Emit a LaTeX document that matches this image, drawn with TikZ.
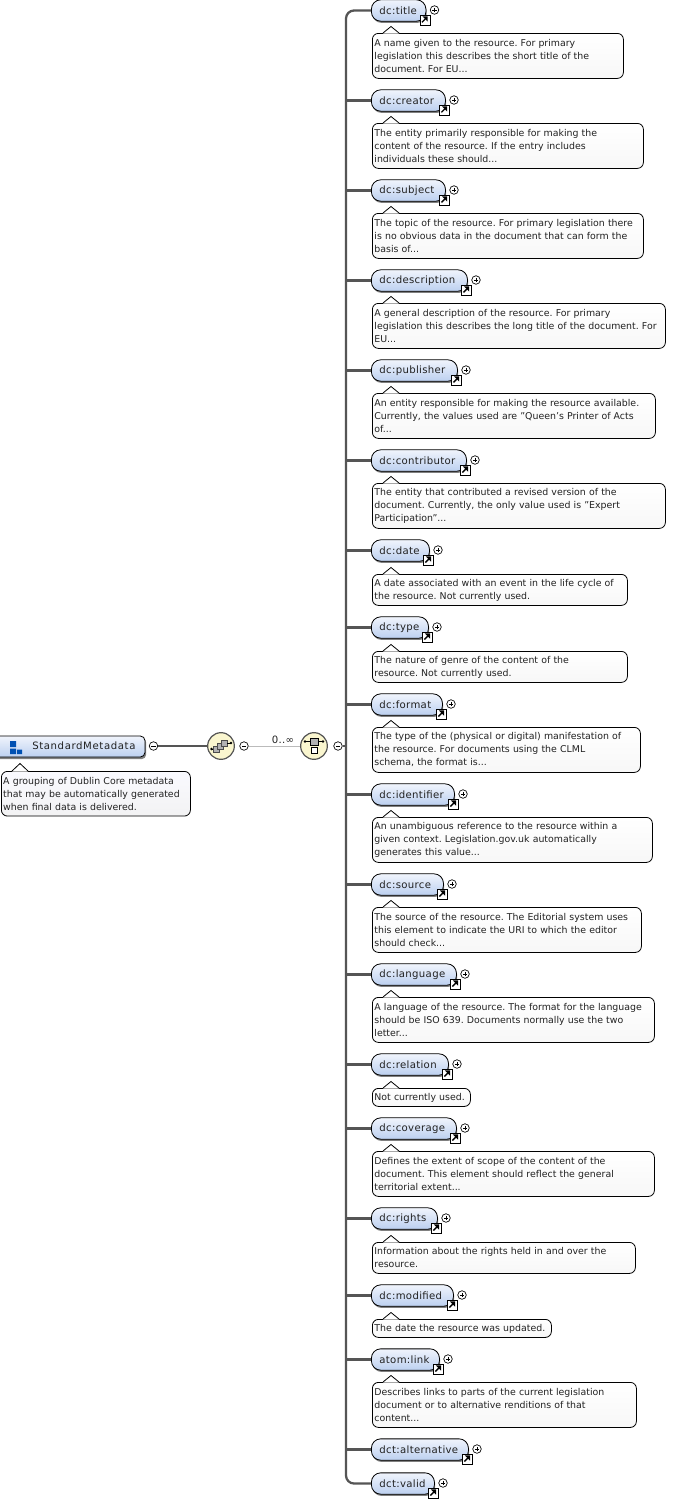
\documentclass[tikz,border=0pt]{standalone}
\usepackage{fontspec}
\setmainfont{DejaVu Sans}
\usetikzlibrary{shadows,calc}
\definecolor{linegray}{HTML}{555555}
\definecolor{thingray}{HTML}{BBBBBB}
\definecolor{ink}{HTML}{222222}
\definecolor{pilltop}{HTML}{F0F4FC}
\definecolor{pillbot}{HTML}{BCD0F0}
\definecolor{compfill}{HTML}{FAF6CF}
\tikzset{
  x=0.75pt,y=-0.75pt,
  txt/.style={font=\fontsize{7.05pt}{9.75pt}\selectfont\frenchspacing,text=ink},
  pilltxt/.style={font=\fontsize{7.6pt}{9.75pt}\selectfont\addfontfeature{LetterSpace=3.2},text=ink},
  conn/.style={draw=linegray,line width=1.7pt},
  thin conn/.style={draw=thingray,line width=0.75pt},
  pill/.style={draw=black,line width=0.6pt,rounded corners=7pt,top color=pilltop,bottom color=pillbot,
    general shadow={shadow xshift=0.6pt,shadow yshift=-1.3pt,fill=gray},
    anchor=west,minimum height=16pt,inner sep=0pt,pilltxt},
  note/.style={draw=black,line width=0.6pt,rounded corners=4.5pt,top color=white,bottom color=black!3,anchor=north west,inner sep=0pt,align=left,txt},
  bluenote/.style={note,top color=blue!2,bottom color=blue!8!black!5},
  exp/.style={circle,draw=black,line width=0.5pt,fill=white,minimum size=6.4pt,inner sep=0pt},
  badge/.style={draw=black,line width=0.6pt,fill=white,minimum size=7.5pt,inner sep=0pt,anchor=north west},
  comp/.style={circle,draw=linegray,line width=0.9pt,fill=compfill,minimum size=20pt,inner sep=0pt},
}
\newcommand{\plusmark}[1]{\draw[line width=0.5pt,black] ($(#1.center)+(-2.2,0)$)--($(#1.center)+(2.2,0)$) ($(#1.center)+(0,-2.2)$)--($(#1.center)+(0,2.2)$);}
\newcommand{\minusmark}[1]{\draw[line width=0.5pt,black] ($(#1.center)+(-2.2,0)$)--($(#1.center)+(2.2,0)$);}
% id, label, centre y, plus x, note right, note top offset, note bottom offset, text
\newcommand{\elem}[8]{%
  \pgfmathsetlengthmacro{\pw}{(#4-9-371)*0.75pt}%
  \node[pill,minimum width=\pw] (#1) at (371,#3+0.5) {\makebox[\pw][l]{\hspace{6pt}#2}};
  \node[exp] (#1x) at (#4,#3) {};
  \plusmark{#1x}
  \node[badge] (#1b) at (#4-15,#3+4.5) {};
  \fill[black] (#4-7,#3+6.3)--(#4-12.2,#3+6.3)--(#4-7,#3+11.5)--cycle;
  \draw[black,line width=1pt] (#4-12.6,#3+12.4)--(#4-9.2,#3+9);
  \ifx&#8&\else
  \pgfmathsetlengthmacro{\nw}{(#5-372)*0.75pt}%
  \pgfmathsetlengthmacro{\nh}{(#7-#6)*0.75pt}%
  \pgfmathsetlengthmacro{\tw}{(#5-372)*0.75pt-3pt}%
  \node[note,minimum width=\nw,minimum height=\nh,text width=\tw] (#1n) at (372,#3+#6) {#8};
  \fill[white] (383,#3+#6+0.6)--(391,#3+#6-6.5)--(399,#3+#6+0.6)--cycle;
  \draw[line width=0.6pt,black] (383,#3+#6)--(391,#3+#6-6.5)--(399,#3+#6);
  \fi
}
\begin{document}
\begin{tikzpicture}
\useasboundingbox (0,0) rectangle (673,1499);
\fill[white] (0,0) rectangle (673,1499);
% root
\fill[gray,rounded corners=3pt] (-9,738) -- (146,738) -- (146,759) -- (-9,759) -- cycle;
\draw[black,line width=0.6pt,top color=pilltop,bottom color=pillbot,rounded corners=3.5pt] (-9,736) -- (145,736) -- (145,757) -- (-9,757) -- cycle;
\node[pilltxt,anchor=west,inner sep=0pt] (root) at (32,746) {\addfontfeature{LetterSpace=6}StandardMetadata};
\fill[blue!55!cyan!70!black] (10,741) rectangle (16,747) (10,748.5) rectangle (16,754) (17,749.5) rectangle (22,754);
\node[exp] (rootx) at (153.5,746) {}; \minusmark{rootx}
\node[comp] (seq) at (221,746) {};
\node[exp] (seqx) at (244,746) {}; \minusmark{seqx}
\node[comp] (choice) at (314,746) {};
\node[exp] (choicex) at (338,746) {}; \minusmark{choicex}
\coordinate (tk) at (346,746);
\draw[conn] (rootx) -- (seq);
\draw[thin conn] (seqx) -- (choice);
\draw[linegray,line width=0.9pt] (choicex) -- (tk);
\node[pilltxt,inner sep=0pt] (occ) at (283,739.5) {0..∞};
% compositor icons
\foreach \dx/\dy in {-5/3,-1/0,3/-3}{\draw[linegray!90!black,line width=0.5pt,fill=gray!60] (221+\dx-3,746+\dy-3) rectangle (221+\dx+3,746+\dy+3);}
\draw[black,line width=0.7pt] (213,749)--(211.5,749) (227,743)--(231,743);
\fill[black] (211.5,749) circle (1.3) (231,743) circle (1.3);
\draw[black,line width=0.7pt] (305,741.5)--(323,741.5);
\fill[black] (305,741.5) circle (1.3) (323,741.5) circle (1.3);
\draw[black,line width=0.5pt,fill=gray!60] (310,738) rectangle (318,745);
\draw[black,line width=0.6pt,fill=white] (311,747.5) rectangle (317.5,753.5);
% root note
\node[bluenote,minimum width=141.75pt,minimum height=33.5pt,text width=139pt] (rootn) at (1,771) {A grouping of Dublin Core metadata\\that may be automatically generated\\when final data is delivered.};
\fill[white] (12,771.6)--(20,763.5)--(28,771.6)--cycle;
\draw[line width=0.6pt,black] (12,771)--(20,763.5)--(28,771);
% elements
\elem{title}{dc:title}{10}{434.5}{623}{23}{68}{A name given to the resource. For primary\\legislation this describes the short title of the\\document. For EU...}
\elem{creator}{dc:creator}{100}{454}{643}{23}{68}{The entity primarily responsible for making the\\content of the resource. If the entry includes\\individuals these should...}
\elem{subject}{dc:subject}{190}{454}{643}{23}{68}{The topic of the resource. For primary legislation there\\is no obvious data in the document that can form the\\basis of...}
\elem{description}{dc:description}{280}{476}{665}{23}{68}{A general description of the resource. For primary\\legislation this describes the long title of the document. For\\EU...}
\elem{publisher}{dc:publisher}{370}{466}{655}{23}{68}{An entity responsible for making the resource available.\\Currently, the values used are "Queen's Printer of Acts\\of...}
\elem{contributor}{dc:contributor}{460}{475}{665}{23}{68}{The entity that contributed a revised version of the\\document. Currently, the only value used is "Expert\\Participation"...}
\elem{date}{dc:date}{550}{438}{627}{24}{55}{A date associated with an event in the life cycle of\\the resource. Not currently used.}
\elem{type}{dc:type}{627}{437}{627}{24}{55}{The nature of genre of the content of the\\resource. Not currently used.}
\elem{format}{dc:format}{704}{451}{640}{23}{68}{The type of the (physical or digital) manifestation of\\the resource. For documents using the CLML\\schema, the format is...}
\elem{identifier}{dc:identifier}{794}{463}{652}{23}{68}{An unambiguous reference to the resource within a\\given context. Legislation.gov.uk automatically\\generates this value...}
\elem{source}{dc:source}{884}{452}{641}{23}{68}{The source of the resource. The Editorial system uses\\this element to indicate the URI to which the editor\\should check...}
\elem{language}{dc:language}{974}{465}{654}{23}{68}{A language of the resource. The format for the language\\should be ISO 639. Documents normally use the two\\letter...}
\elem{relation}{dc:relation}{1064}{457}{470}{24}{42}{Not currently used.}
\elem{coverage}{dc:coverage}{1128}{465}{654}{23}{68}{Defines the extent of scope of the content of the\\document. This element should reflect the general\\territorial extent...}
\elem{rights}{dc:rights}{1218}{446}{635}{24}{55}{Information about the rights held in and over the\\resource.}
\elem{modified}{dc:modified}{1295}{462}{551}{24}{42}{The date the resource was updated.}
\elem{link}{atom:link}{1359}{448}{636}{23}{68}{Describes links to parts of the current legislation\\document or to alternative renditions of that\\content...}
\elem{alternative}{dct:alternative}{1449}{477}{0}{0}{0}{}
\elem{valid}{dct:valid}{1483}{443}{0}{0}{0}{}
% trunk
\draw[conn,rounded corners=6pt] (title.west) -| (tk) |- (valid.west);
\foreach \n in {creator,subject,description,publisher,contributor,date,type,format,identifier,source,language,relation,coverage,rights,modified,link,alternative}{
  \draw[conn] (\n.west) -- (\n.west -| tk);
}
\end{tikzpicture}
\end{document}
